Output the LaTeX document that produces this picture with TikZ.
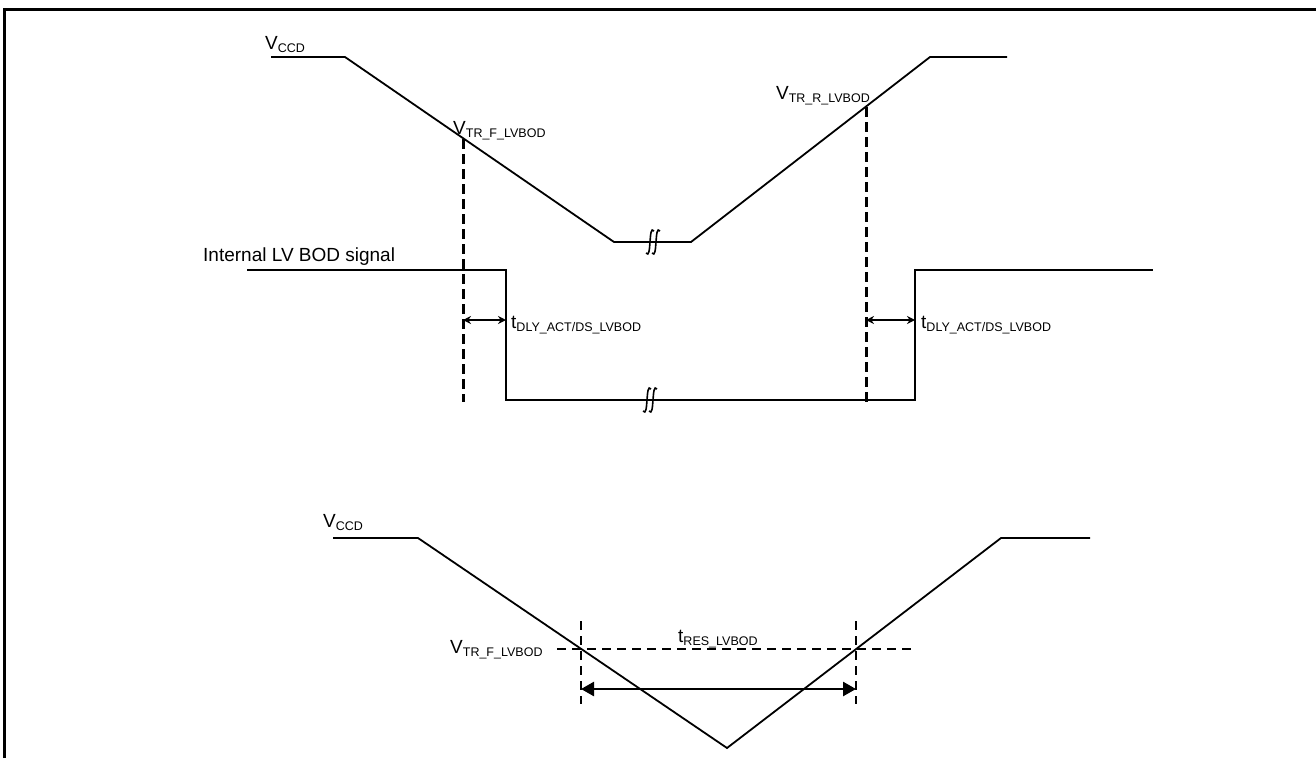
\documentclass[tikz,border=0pt]{standalone}
\usepackage{fontspec}
\setmainfont{Liberation Sans}
\usetikzlibrary{arrows.meta}
\newcommand{\lbl}[2]{#1\raisebox{-3pt}{\fontsize{12.5}{14}\selectfont #2}}
\begin{document}
\begin{tikzpicture}[x=1pt,y=-1pt,
  wave/.style={line width=1.8pt, line join=miter},
  thickdash/.style={line width=3pt, dash pattern=on 10pt off 5pt},
  thindash/.style={line width=2.2pt, dash pattern=on 9pt off 6pt},
  dimarrow/.style={line width=1.8pt, {Stealth[length=8pt,width=8pt]}-{Stealth[length=8pt,width=8pt]}},
  bigarrow/.style={line width=2.6pt, {Triangle[length=13pt,width=14pt]}-{Triangle[length=13pt,width=14pt]}},
  txt/.style={font=\fontsize{19}{21}\selectfont, inner sep=0pt, anchor=base west},
  brk/.style={line width=1.6pt},
  frame/.style={line width=3pt}]
\useasboundingbox (0,0) rectangle (1316,758);
% frame
\coordinate (fA) at (4,758);
\coordinate (fB) at (4,9);
\coordinate (fC) at (1316,9);
\draw[frame] (fA) -- (fB) -- (fC);

% ---------- top VCCD ----------
\coordinate (t1) at (271,57);
\coordinate (t2) at (345,57);
\coordinate (t3) at (614,242);
\coordinate (t4) at (691,242);
\coordinate (t5) at (930,57);
\coordinate (t6) at (1007,57);
\draw[wave] (t1) -- (t2) -- (t3) -- (t4) -- (t5) -- (t6);
\node[txt] (vccd1) at (265,49) {\lbl{V}{CCD}};
\node[txt] (vtrf1) at (453,134) {\lbl{V}{TR\_F\_LVBOD}};
\node[txt, anchor=base east] (vtrr1) at (870,99) {\lbl{V}{TR\_R\_LVBOD}};

% break on top flat
\begin{scope}[shift={(653,242)}]
  \draw[brk] (-7,11) .. controls (-4,15) and (-3.5,7) .. (-3,0) .. controls (-2.5,-7) and (-2,-15) .. (1,-11);
  \draw[brk] (-1,11) .. controls (2,15) and (2.5,7) .. (3,0) .. controls (3.5,-7) and (4,-15) .. (7,-11);
\end{scope}

% dashed verticals
\coordinate (d1t) at (463,139);
\coordinate (d1b) at (463,402);
\coordinate (d2t) at (866,107);
\coordinate (d2b) at (866,402);
\draw[thickdash] (d1t) -- (d1b);
\draw[thickdash] (d2t) -- (d2b);

% ---------- internal signal ----------
\coordinate (s1) at (247,270);
\coordinate (s2) at (506,270);
\coordinate (s3) at (506,400);
\coordinate (s4) at (915,400);
\coordinate (s5) at (915,270);
\coordinate (s6) at (1153,270);
\draw[wave] (s1) -- (s2) -- (s3) -- (s4) -- (s5) -- (s6);
\node[txt] (sig) at (203,261) {Internal LV BOD signal};

\begin{scope}[shift={(650,400)}]
  \draw[brk] (-7,11) .. controls (-4,15) and (-3.5,7) .. (-3,0) .. controls (-2.5,-7) and (-2,-15) .. (1,-11);
  \draw[brk] (-1,11) .. controls (2,15) and (2.5,7) .. (3,0) .. controls (3.5,-7) and (4,-15) .. (7,-11);
\end{scope}

\coordinate (a1l) at (463,320);
\coordinate (a1r) at (506,320);
\coordinate (a2l) at (866,320);
\coordinate (a2r) at (915,320);
\draw[dimarrow] (a1l) -- (a1r);
\draw[dimarrow] (a2l) -- (a2r);
\node[txt] (tdly1) at (511,328) {\lbl{t}{DLY\_ACT/DS\_LVBOD}};
\node[txt] (tdly2) at (921,328) {\lbl{t}{DLY\_ACT/DS\_LVBOD}};

% ---------- bottom VCCD ----------
\coordinate (b1) at (333,538);
\coordinate (b2) at (418,538);
\coordinate (b3) at (727,748);
\coordinate (b4) at (1001,538);
\coordinate (b5) at (1090,538);
\draw[wave] (b1) -- (b2) -- (b3) -- (b4) -- (b5);
\node[txt] (vccd2) at (323,527) {\lbl{V}{CCD}};

\coordinate (h1) at (557,649);
\coordinate (h2) at (911,649);
\draw[thindash] (h1) -- (h2);
\node[txt] (vtrf2) at (450,653) {\lbl{V}{TR\_F\_LVBOD}};

\coordinate (v1t) at (581,621);
\coordinate (v1b) at (581,704);
\coordinate (v2t) at (856,621);
\coordinate (v2b) at (856,704);
\draw[thindash] (v1t) -- (v1b);
\draw[thindash] (v2t) -- (v2b);

\coordinate (r1) at (581,689);
\coordinate (r2) at (856,689);
\draw[bigarrow] (r1) -- (r2);
\node[txt] (tres) at (678,642) {\lbl{t}{RES\_LVBOD}};
\end{tikzpicture}
\end{document}
